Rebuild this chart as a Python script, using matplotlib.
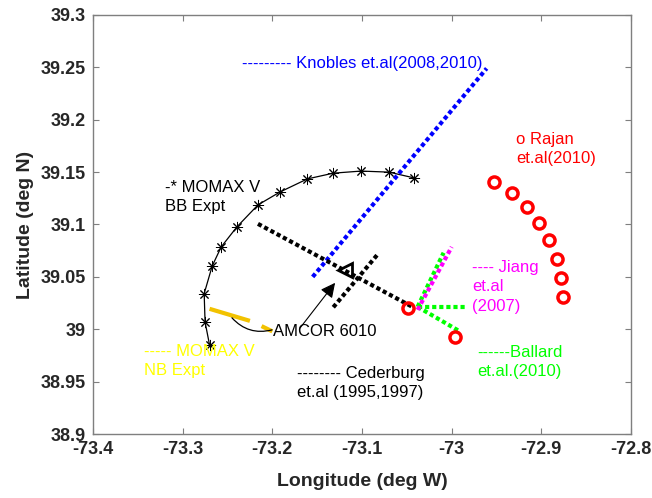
import matplotlib
matplotlib.use("Agg")
import matplotlib.pyplot as plt

plt.rcParams["font.family"] = ["Liberation Sans", "DejaVu Sans"]

# ================================
# Datos de las trayectorias
# ================================
bb_lon = [-73.270, -73.275, -73.276, -73.267, -73.257, -73.2395, -73.216,
          -73.1915, -73.161, -73.132, -73.101, -73.070, -73.042]
bb_lat = [38.985, 39.007, 39.034, 39.0605, 39.0786, 39.0977, 39.1187,
          39.131, 39.1435, 39.149, 39.151, 39.150, 39.1445]

nb_lon_a = [-73.270, -73.225]
nb_lat_a = [39.0195, 39.008]
nb_lon_b = [-73.212, -73.200]
nb_lat_b = [39.003, 38.998]

knobles_lon = [-73.155, -72.961]
knobles_lat = [39.050, 39.249]

ceder1_lon = [-73.216, -73.043]
ceder1_lat = [39.1006, 39.021]
ceder2_lon = [-73.132, -73.083]
ceder2_lat = [39.021, 39.071]

jiang_lon = [-73.038, -73.000]
jiang_lat = [39.0185, 39.0786]

ballard_lon0, ballard_lat0 = -73.038, 39.0214
ballard_lon = [-73.009, -72.983, -72.992]
ballard_lat = [39.073, 39.0214, 38.9985]

rajan_lon = [-72.953, -72.933, -72.916, -72.903, -72.891, -72.883, -72.878,
             -72.876, -73.049, -72.996]
rajan_lat = [39.1406, 39.130, 39.117, 39.1015, 39.085, 39.067, 39.049,
             39.031, 39.020, 38.993]

amcor_lon, amcor_lat = -73.119, 39.0567

xticks = [-73.4, -73.3, -73.2, -73.1, -73.0, -72.9, -72.8]
xtick_labels = ["-73.4", "-73.3", "-73.2", "-73.1", "-73", "-72.9", "-72.8"]
yticks = [38.9, 38.95, 39.0, 39.05, 39.1, 39.15, 39.2, 39.25, 39.3]
ytick_labels = ["38.9", "38.95", "39", "39.05", "39.1", "39.15", "39.2",
                "39.25", "39.3"]

# ================================
# Figura
# ================================
fig = plt.figure(figsize=(6.52, 4.98), dpi=100)
ax = fig.add_axes([0.1426, 0.1285, 0.8252, 0.8414])

dots = (0, (1.0, 0.7))

ax.plot(bb_lon, bb_lat, color="black", lw=0.9, marker=(8, 2, 0),
        markersize=8, markeredgewidth=0.7)

ax.plot(nb_lon_a, nb_lat_a, color="#F2C200", lw=3, solid_capstyle="butt")
ax.plot(nb_lon_b, nb_lat_b, color="#F2C200", lw=3, solid_capstyle="butt")

ax.plot(knobles_lon, knobles_lat, color="#0000FF", lw=3, linestyle=dots)
ax.plot(ceder1_lon, ceder1_lat, color="black", lw=3, linestyle=dots)
ax.plot(ceder2_lon, ceder2_lat, color="black", lw=3, linestyle=dots)

for lo, la in zip(ballard_lon, ballard_lat):
    ax.plot([ballard_lon0, lo], [ballard_lat0, la], color="#00FF00", lw=3,
            linestyle=dots)
ax.plot(jiang_lon, jiang_lat, color="#FF00FF", lw=3, linestyle=dots)

ax.plot(rajan_lon, rajan_lat, linestyle="none", marker="o", markersize=8,
        markerfacecolor="none", markeredgecolor="#FF0000", markeredgewidth=2.5)

ax.plot([amcor_lon], [amcor_lat], linestyle="none", marker="<", markersize=10,
        markerfacecolor="none", markeredgecolor="black", markeredgewidth=2)

# flecha y curva de la etiqueta AMCOR
ax.annotate("", xy=(-73.130, 39.0443), xytext=(-73.169, 39.0013),
            arrowprops=dict(arrowstyle="-|>", color="black", lw=0.8,
                            mutation_scale=22, shrinkA=0, shrinkB=0))
ax.annotate("", xy=(-73.2004, 38.9994), xytext=(-73.245, 39.0109),
            arrowprops=dict(arrowstyle="-", color="black", lw=0.9,
                            connectionstyle="arc3,rad=0.3",
                            shrinkA=0, shrinkB=0))

fs = 12
ls = 1.35
ax.text(-73.234, 39.254, "--------- Knobles et.al(2008,2010)", color="#0000FF",
        fontsize=fs, va="center")
ax.text(-72.928, 39.172, "o Rajan\net.al(2010)", color="#FF0000",
        fontsize=fs, va="center", linespacing=ls)
ax.text(-73.320, 39.126, "-* MOMAX V\nBB Expt", color="black",
        fontsize=fs, va="center", linespacing=ls)
ax.text(-73.343, 38.970, "----- MOMAX V\nNB Expt", color="#FFFF00",
        fontsize=fs, va="center", linespacing=ls)
ax.text(-73.1993, 38.9975, "AMCOR 6010", color="black",
        fontsize=fs, va="center")
ax.text(-73.173, 38.949, "-------- Cederburg\net.al (1995,1997)",
        color="black", fontsize=fs, va="center", linespacing=ls)
ax.text(-72.9775, 39.0405, "---- Jiang\net.al\n(2007)", color="#FF00FF",
        fontsize=fs, va="center", linespacing=ls)
ax.text(-72.972, 38.969, "------Ballard\net.al.(2010)", color="#00FF00",
        fontsize=fs, va="center", linespacing=ls)

ax.set_xlim(-73.4, -72.8)
ax.set_ylim(38.9, 39.3)
ax.set_xticks(xticks)
ax.set_xticklabels(xtick_labels)
ax.set_yticks(yticks)
ax.set_yticklabels(ytick_labels)

for s in ax.spines.values():
    s.set_color("#7f7f7f")
    s.set_linewidth(1.0)
ax.tick_params(direction="in", top=True, right=True, length=4,
               color="#7f7f7f", labelsize=13, labelcolor="#262626", pad=5)
for lab in ax.get_xticklabels() + ax.get_yticklabels():
    lab.set_fontweight("bold")

ax.set_xlabel("Longitude (deg W)", fontsize=14, fontweight="bold",
              color="#262626", labelpad=11)
ax.set_ylabel("Latitude (deg N)", fontsize=14, fontweight="bold",
              color="#262626", labelpad=5)

plt.savefig("out.png", dpi=100)
